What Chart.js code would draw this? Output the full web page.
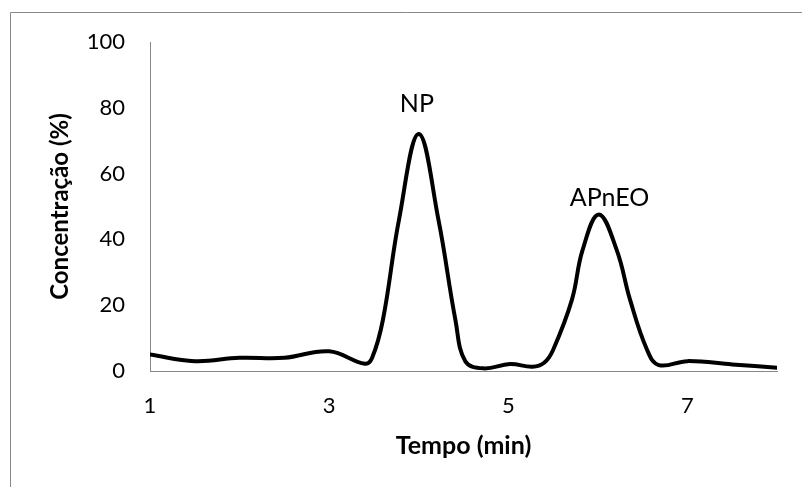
<!DOCTYPE html>
<html>
<head>
<meta charset="utf-8">
<script src="https://cdn.jsdelivr.net/npm/chart.js@4/dist/chart.umd.min.js"></script>
<style>
  html, body { margin: 0; padding: 0; background: #ffffff; overflow: hidden; }
  #wrap { width: 802px; height: 487px; position: relative; }
</style>
</head>
<body>
<div id="wrap"><canvas id="c" width="802" height="487"></canvas></div>
<script>
// Time (min) and concentration (%)
const tempo = [1, 1.5, 2, 2.5, 3, 3.4, 3.48, 3.6, 3.78, 4, 4.22, 4.41, 4.52, 4.72, 5.02, 5.27, 5.4, 5.5, 5.71, 5.83, 6.01, 6.21, 6.36, 6.55, 6.68, 7, 7.5, 8];
const concentracao = [5, 3, 4, 4, 6, 2.2, 4, 15.5, 46, 72, 46, 15.5, 3, 0.8, 2.1, 1.3, 2.5, 6.4, 21.6, 36.8, 47.6, 36.8, 21.6, 6.4, 1.8, 3, 2, 1];
const xTicks = [1, 3, 5, 7];
const yTicks = [0, 20, 40, 60, 80, 100];
const peakLabels = ['NP', 'APnEO'];
const peakLabelX = [3.98, 6.13];
const peakLabelY = [81.2, 52.5];

const points = tempo.map((t, i) => ({ x: t, y: concentracao[i] }));
const FONT = 'Lato, "Open Sans", sans-serif';
const GRAY = '#888888';

const framePlugin = {
  id: 'frame',
  beforeDraw(chart) {
    const ctx = chart.ctx;
    ctx.save();
    ctx.fillStyle = '#ffffff';
    ctx.fillRect(0, 0, chart.width, chart.height);
    ctx.strokeStyle = GRAY;
    ctx.lineWidth = 1;
    ctx.beginPath();
    ctx.moveTo(10.5, chart.height + 5);
    ctx.lineTo(10.5, 12.5);
    ctx.lineTo(chart.width + 5, 12.5);
    ctx.stroke();
    ctx.restore();
  }
};

const peakLabelPlugin = {
  id: 'peakLabels',
  afterDatasetsDraw(chart) {
    const ctx = chart.ctx;
    const xs = chart.scales.x, ys = chart.scales.y;
    ctx.save();
    ctx.fillStyle = '#000000';
    ctx.font = '25px ' + FONT;
    ctx.textAlign = 'center';
    ctx.textBaseline = 'middle';
    peakLabels.forEach((txt, i) => {
      ctx.fillText(txt, xs.getPixelForValue(peakLabelX[i]), ys.getPixelForValue(peakLabelY[i]));
    });
    ctx.restore();
  }
};

new Chart(document.getElementById('c'), {
  type: 'line',
  data: {
    datasets: [{
      data: points,
      borderColor: '#000000',
      borderWidth: 4,
      borderCapStyle: 'round',
      borderJoinStyle: 'round',
      pointRadius: 0,
      fill: false,
      tension: 0.4
    }]
  },
  options: {
    responsive: false,
    animation: false,
    devicePixelRatio: 1,
    layout: { padding: { left: 0, right: 25, top: 42, bottom: 0 } },
    plugins: { legend: { display: false }, tooltip: { enabled: false } },
    scales: {
      x: {
        type: 'linear',
        min: 1, max: 8,
        grid: { display: false, drawTicks: false },
        border: { display: true, color: GRAY, width: 1 },
        afterBuildTicks: s => { s.ticks = xTicks.map(v => ({ value: v })); },
        afterFit: s => { s.height = 116; },
        ticks: { color: '#000000', font: { family: FONT, size: 22 }, padding: 22, maxRotation: 0, autoSkip: false },
        title: { display: true, text: 'Tempo (min)', color: '#000000', font: { family: FONT, size: 25, weight: 'bold' }, padding: { top: 0, bottom: 26 } }
      },
      y: {
        min: 0, max: 100,
        grid: { display: false, drawTicks: false },
        border: { display: true, color: GRAY, width: 1 },
        afterBuildTicks: s => { s.ticks = yTicks.map(v => ({ value: v })); },
        afterFit: s => { s.width = 150; },
        ticks: { color: '#000000', font: { family: FONT, size: 22 }, padding: 25 },
        title: { display: true, text: 'Concentração (%)', color: '#000000', font: { family: FONT, size: 24, weight: 'bold' }, padding: { top: 46, bottom: 0 } }
      }
    }
  },
  plugins: [framePlugin, peakLabelPlugin]
});
</script>
</body>
</html>
